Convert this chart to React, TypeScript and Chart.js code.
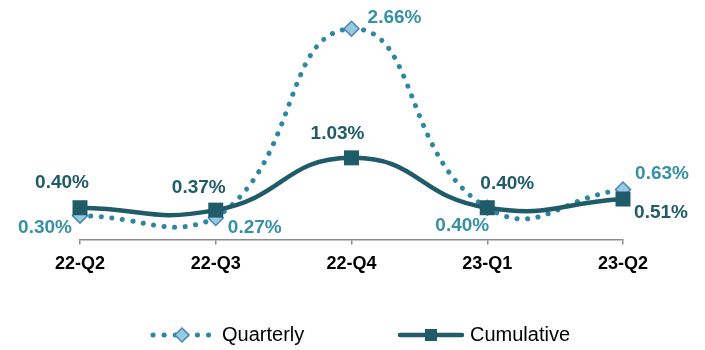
import React, { useEffect, useRef } from "react";
import { Chart, registerables } from "chart.js";

Chart.register(...registerables);

const categories = ["22-Q2", "22-Q3", "22-Q4", "23-Q1", "23-Q2"];
const quarterly = [0.30, 0.27, 2.66, 0.40, 0.63];
const cumulative = [0.40, 0.37, 1.03, 0.40, 0.51];
const seriesNames = ["Quarterly", "Cumulative"];

const FONT = "'Liberation Sans', Arial, sans-serif";
const Q_LINE = "#2E86A0";
const Q_LABEL = "#3790A7";
const C_LINE = "#205B6A";
const C_LABEL = "#205B6A";

// label offsets (dx, dy) from the point, per dataset
const labelOffsets = [
  [[-35, 12], [39, 10], [43, -11], [-25, 18], [39, -16]],
  [[-18, -25], [-17, -22], [-14, -24], [20, -24], [38, 14]],
];

const labelPlugin = {
  id: "valueLabels",
  afterDatasetsDraw(chart: any) {
    const ctx = chart.ctx;
    ctx.save();
    ctx.font = `bold 19px ${FONT}`;
    ctx.textAlign = "center";
    ctx.textBaseline = "middle";
    chart.data.datasets.forEach((ds: any, di: number) => {
      const meta = chart.getDatasetMeta(di);
      ctx.fillStyle = di === 0 ? Q_LABEL : C_LABEL;
      meta.data.forEach((el: any, i: number) => {
        const [dx, dy] = labelOffsets[di][i];
        ctx.fillText(ds.data[i].toFixed(2) + "%", el.x + dx, el.y + dy);
      });
    });
    ctx.restore();
  },
};

const legendPlugin = {
  id: "customLegend",
  afterDraw(chart: any) {
    const ctx = chart.ctx;
    const y = 335;
    ctx.save();
    // Quarterly sample
    ctx.strokeStyle = Q_LINE;
    ctx.lineWidth = 5;
    ctx.lineCap = "round";
    ctx.setLineDash([0.1, 11]);
    ctx.beginPath();
    ctx.moveTo(153, y);
    ctx.lineTo(210, y);
    ctx.stroke();
    ctx.setLineDash([]);
    ctx.fillStyle = "#93CDDD";
    ctx.strokeStyle = "#4F81BD";
    ctx.lineWidth = 1.5;
    ctx.beginPath();
    ctx.moveTo(182, y - 7);
    ctx.lineTo(189, y);
    ctx.lineTo(182, y + 7);
    ctx.lineTo(175, y);
    ctx.closePath();
    ctx.fill();
    ctx.stroke();
    // Cumulative sample
    ctx.strokeStyle = C_LINE;
    ctx.lineWidth = 4.5;
    ctx.lineCap = "round";
    ctx.beginPath();
    ctx.moveTo(400, y);
    ctx.lineTo(462, y);
    ctx.stroke();
    ctx.fillStyle = C_LINE;
    ctx.fillRect(425, y - 6, 12, 12);
    // texts
    ctx.fillStyle = "#000";
    ctx.font = `20px ${FONT}`;
    ctx.textAlign = "left";
    ctx.textBaseline = "middle";
    ctx.fillText(seriesNames[0], 222, y);
    ctx.fillText(seriesNames[1], 470, y);
    ctx.restore();
  },
};

export default function App() {
  const ref = useRef<HTMLCanvasElement>(null);
  useEffect(() => {
    if (!ref.current) return;
    const chart = new Chart(ref.current, {
      type: "line",
      data: {
        labels: categories,
        datasets: [
          {
            label: seriesNames[0],
            data: quarterly,
            borderColor: Q_LINE,
            borderWidth: 5,
            borderDash: [0.1, 10.5],
            borderCapStyle: "round",
            tension: 0.5,
            pointStyle: "rectRot",
            pointRadius: 7.5,
            pointBackgroundColor: "#93CDDD",
            pointBorderColor: "#4F81BD",
            pointBorderWidth: 1.5,
            clip: false,
            order: 1,
          },
          {
            label: seriesNames[1],
            data: cumulative,
            borderColor: C_LINE,
            borderWidth: 4.5,
            tension: 0.5,
            pointStyle: "rect",
            pointRadius: 10.6,
            pointBackgroundColor: C_LINE,
            pointBorderColor: C_LINE,
            pointBorderWidth: 0,
            clip: false,
            order: 0,
          },
        ],
      },
      options: {
        animation: false,
        responsive: true,
        maintainAspectRatio: false,
        layout: { padding: { top: 1, bottom: 66, left: 80, right: 82 } },
        plugins: { legend: { display: false }, tooltip: { enabled: false } },
        scales: {
          x: {
            type: "category",
            offset: false,
            grid: {
              display: true,
              drawOnChartArea: false,
              drawTicks: true,
              tickLength: 5,
              color: "#8c8c8c",
              lineWidth: 1.5,
            },
            border: { display: true, color: "#8c8c8c", width: 1.5 },
            ticks: {
              color: "#000",
              font: { family: FONT, size: 18, weight: "bold" },
              padding: 9,
              maxRotation: 0,
              autoSkip: false,
            },
          },
          y: { display: false, min: 0, max: 2.89 },
        },
      },
      plugins: [labelPlugin, legendPlugin],
    } as any);
    return () => chart.destroy();
  }, []);
  return (
    <div style={{ position: "fixed", left: 0, top: 0, width: 705, height: 350, background: "#fff" }}>
      <canvas ref={ref} />
    </div>
  );
}
